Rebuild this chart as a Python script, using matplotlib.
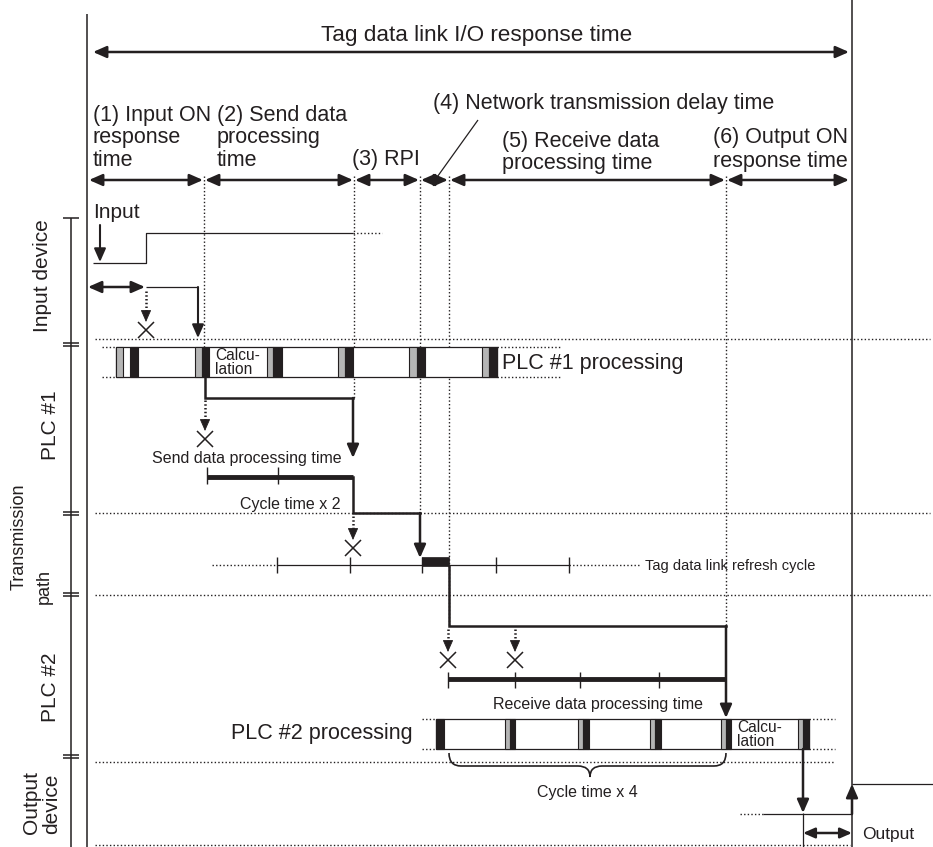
"""Tag data link I/O response time — timing diagram redrawn on a pixel canvas."""
import matplotlib
matplotlib.use("Agg")
import matplotlib.pyplot as plt
from matplotlib.patches import FancyArrowPatch, Rectangle, PathPatch
from matplotlib.path import Path

plt.rcParams["font.family"] = ["Liberation Sans", "DejaVu Sans"]

W, H = 933, 847
INK = "#231f20"
GREY = "#b5b5b5"
DOT = (0, (1, 1.6))

# ---- timeline points (px along the canvas) --------------------------------
PHASE_X = [88, 204, 354, 420, 449, 726, 850]
PHASE_GUIDE_END = [347, 398, 513, 626, 626]
PHASE_TEXT = [
    ["(1) Input ON", "response", "time"],
    ["(2) Send data", "processing", "time"],
    ["(3) RPI"],
    ["(4) Network transmission delay time"],
    ["(5) Receive data", "processing time"],
    ["(6) Output ON", "response time"],
]
PHASE_TEXT_X = [93, 217, 352, 433, 502, 713]
PHASE_TEXT_Y = [115, 115, 159, 104, 141, 138]

LANE_NAMES = ["Input device", "PLC #1", "Transmission", "path", "PLC #2", "Output", "device"]
LANE_NAME_X = [42, 50, 19, 44, 50, 32, 52]
LANE_NAME_Y = [276, 425, 537, 587, 687, 803, 804]
LANE_NAME_SIZE = [15, 15, 13, 13, 15, 15, 15]
LANE_BREAKS = [343, 512, 593, 755]
LANE_DOTS_Y = [339, 513, 595, 762, 845]
LANE_DOTS_END = [930, 930, 930, 835, 850]

# PLC #1 scan: grey (I/O refresh) and black (peripheral) slices
PLC1_GREY = [(116, 123), (195, 202), (267, 273), (338, 345), (409, 417), (482, 489)]
PLC1_BLACK = [(130, 138), (202, 209), (273, 282), (345, 353), (417, 425), (489, 497)]
PLC1_CALC = (209, 267)
PLC1_Y = (347, 377)

PLC2_GREY = [(505, 510), (578, 583), (650, 655), (721, 726), (798, 803)]
PLC2_BLACK = [(436, 444), (510, 515), (583, 589), (655, 661), (726, 731), (803, 809)]
PLC2_CALC = (731, 798)
PLC2_Y = (719, 749)

SEND_TICKS = [207, 278]
REFRESH_TICKS = [277, 350, 422, 496, 569]
RECV_TICKS = [448, 515, 580, 659]


fig = plt.figure(figsize=(W / 100, H / 100), dpi=100)
ax = fig.add_axes([0, 0, 1, 1])
ax.set_xlim(0, W)
ax.set_ylim(H, 0)
ax.axis("off")


def txt(x, y, s, size=15.5, **kw):
    kw.setdefault("ha", "left")
    ax.text(x, y, s, fontsize=size, color=INK, va="center", **kw)


def line(xs, ys, lw=0.9, ls="-", **kw):
    ax.plot(xs, ys, color=INK, lw=lw, ls=ls, solid_capstyle="butt", **kw)


def arrow(p0, p1, lw=1.8, both=False, ms=16):
    style = "<|-|>" if both else "-|>"
    ax.add_patch(FancyArrowPatch(p0, p1, arrowstyle=f"{style},head_length=0.5,head_width=0.22",
                                 mutation_scale=ms, lw=lw, color=INK,
                                 shrinkA=0, shrinkB=0, zorder=5))


def path_arrow(pts, lw=1.8):
    xs, ys = zip(*pts)
    ax.plot(xs[:-1], ys[:-1], color=INK, lw=lw, solid_joinstyle="miter", zorder=4)
    arrow(pts[-2], pts[-1], lw=lw)


def dotted_arrow(x, y0, tip, cross=True):
    ax.plot([x, x], [y0, tip - 8], color=INK, lw=1.8, ls=(0, (0.6, 0.9)),
            dash_capstyle="butt")
    arrow((x, tip - 11), (x, tip), lw=0.6, ms=15)
    if cross:
        ax.plot(x, tip + 8, marker="x", ms=11, mew=1.1, color=INK)


def scan_bar(y, x0, x1, grey, black, calc):
    ax.add_patch(Rectangle((x0, y[0]), x1 - x0, y[1] - y[0], fc="white", ec=INK, lw=0.9, zorder=2))
    for a, b in grey:
        ax.add_patch(Rectangle((a, y[0]), b - a, y[1] - y[0], fc=GREY, ec=INK, lw=0.8, zorder=3))
    for a, b in black:
        ax.add_patch(Rectangle((a, y[0]), b - a, y[1] - y[0], fc=INK, ec=INK, lw=0.8, zorder=3))
    txt(calc[0] + 6, y[0] + 8, "Calcu-", size=11.2, zorder=4)
    txt(calc[0] + 6, y[0] + 23, "lation", size=11.2, zorder=4)


# ---- frame -----------------------------------------------------------------
line([87, 87], [14, H], lw=1.1)
line([852, 852], [0, H], lw=1.1)
line([71, 71], [218, H], lw=1.1)
line([63, 79], [218, 218], lw=1.1)
for yb in LANE_BREAKS:
    for dy in (0, 3.5):
        line([63, 79], [yb + dy, yb + dy], lw=1.1)
for i, name in enumerate(LANE_NAMES):
    txt(LANE_NAME_X[i], LANE_NAME_Y[i], name, size=LANE_NAME_SIZE[i], rotation=90, ha="center")
for y, xe in zip(LANE_DOTS_Y, LANE_DOTS_END):
    line([95, xe], [y, y], lw=1.0, ls=DOT)

# ---- header ----------------------------------------------------------------
txt(477, 36, "Tag data link I/O response time", size=16.2, ha="center")
arrow((93, 52), (849, 52), both=True)
for i in range(len(PHASE_X) - 1):
    arrow((PHASE_X[i] + 1, 180), (PHASE_X[i + 1] - 1, 180), both=True)
for x, ye in zip(PHASE_X[1:-1], PHASE_GUIDE_END):
    line([x, x], [176, ye], lw=1.0, ls=DOT, zorder=1)
for lines, x, y in zip(PHASE_TEXT, PHASE_TEXT_X, PHASE_TEXT_Y):
    for k, s in enumerate(lines):
        txt(x, y + 23 * k, s)
line([478, 435], [120, 180], lw=0.9)

# ---- input device ----------------------------------------------------------
txt(93, 213, "Input", size=15)
arrow((100, 225), (100, 262), lw=1.5)
line([93, 146, 146, 353], [263, 263, 233, 233])
line([353, 382], [233, 233], lw=1.0, ls=DOT)
arrow((88, 287), (145, 287), both=True)
line([146, 198], [287, 287])
arrow((198, 287), (198, 338), lw=1.5)
dotted_arrow(146, 291, 322)

# ---- PLC #1 ----------------------------------------------------------------
for y in PLC1_Y:
    line([102, 116], [y, y], lw=1.0, ls=DOT)
    line([497, 562], [y, y], lw=1.0, ls=DOT)
scan_bar(PLC1_Y, 116, 497, PLC1_GREY, PLC1_BLACK, PLC1_CALC)
txt(502, 364, "PLC #1 processing")

path_arrow([(205, 377), (205, 398), (353, 398), (353, 458)])
dotted_arrow(205, 400, 431)
txt(342, 458, "Send data processing time", size=11.5, ha="right")
line([207, 353], [477, 477], lw=3.5)
for x in SEND_TICKS:
    line([x, x], [467, 484], lw=1.0)
txt(340, 504, "Cycle time x 2", size=11.5, ha="right")
path_arrow([(353, 477), (353, 513), (420, 513), (420, 558)])

# ---- transmission path -----------------------------------------------------
dotted_arrow(353, 516, 540)
line([212, 277], [565, 565], lw=1.0, ls=DOT)
line([277, 569], [565, 565], lw=0.9)
line([569, 640], [565, 565], lw=1.0, ls=DOT)
for x in REFRESH_TICKS:
    line([x, x], [557, 573], lw=1.0)
ax.add_patch(Rectangle((422, 557), 27, 9, fc=INK, ec=INK, lw=0.5, zorder=4))
txt(645, 566, "Tag data link refresh cycle", size=10.5)

# ---- PLC #2 ----------------------------------------------------------------
path_arrow([(449, 566), (449, 626), (726, 626), (726, 718)])
dotted_arrow(448, 629, 652)
dotted_arrow(515, 629, 652)
line([448, 726], [679, 679], lw=3.5)
for x in RECV_TICKS:
    line([x, x], [672, 688], lw=1.0)
txt(598, 704, "Receive data processing time", size=11.5, ha="center")

for y in PLC2_Y:
    line([422, 436], [y, y], lw=1.0, ls=DOT)
    line([809, 835], [y, y], lw=1.0, ls=DOT)
scan_bar(PLC2_Y, 436, 809, PLC2_GREY, PLC2_BLACK, PLC2_CALC)
txt(413, 733, "PLC #2 processing", ha="right")

brace = Path([(449, 753), (449, 766), (461, 766), (578, 766), (590, 766), (590, 777),
              (590, 766), (602, 766), (714, 766), (726, 766), (726, 753)],
             [Path.MOVETO, Path.CURVE3, Path.CURVE3, Path.LINETO, Path.CURVE3, Path.CURVE3,
              Path.CURVE3, Path.CURVE3, Path.LINETO, Path.CURVE3, Path.CURVE3])
ax.add_patch(PathPatch(brace, fc="none", ec=INK, lw=1.2))
txt(587, 793, "Cycle time x 4", size=11.5, ha="center")

# ---- output device ---------------------------------------------------------
arrow((803, 749), (803, 813), lw=1.8)
line([803, 803], [813, H])
line([740, 763], [814, 814], lw=1.0, ls=DOT)
line([763, 852], [814, 814])
arrow((852, 814), (852, 784), lw=1.8)
line([852, W], [784, 784])
arrow((803, 833), (852, 833), both=True, ms=14)
txt(862, 834, "Output", size=12.5)

fig.savefig("out.png", dpi=100)
